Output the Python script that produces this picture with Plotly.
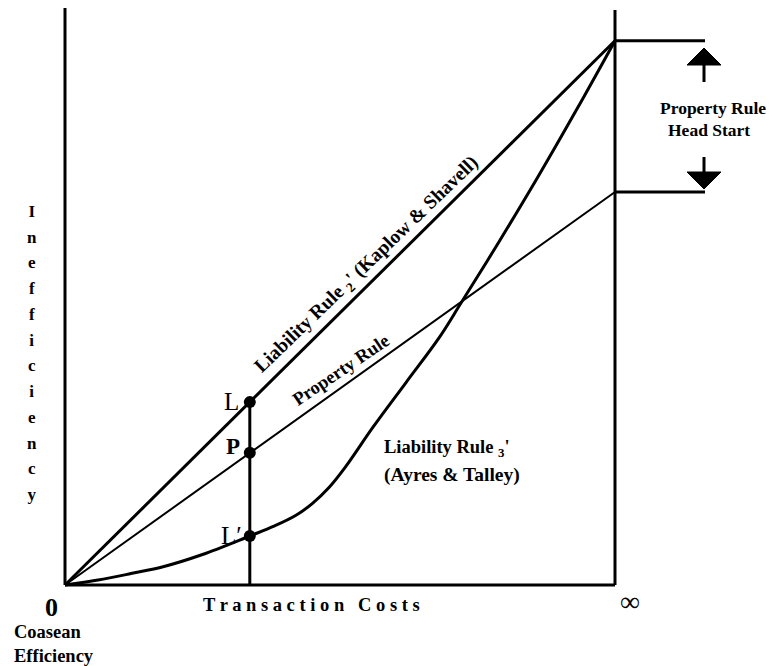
import plotly.graph_objects as go

# ---------------- data ----------------
# x: transaction costs, 0 (Coasean efficiency) .. 100 (infinity)
# y: inefficiency, 0 .. 100
liab2_x = [0, 100]
liab2_y = [0, 100]

prop_x = [0, 100]
prop_y = [0, 72.2]

liab3_x = [0, 6, 12, 18, 25, 33.6, 38, 42, 45, 48, 51, 56, 62, 68, 72, 79, 86, 93, 100]
liab3_y = [0, 0.9, 2.1, 3.4, 5.6, 9.0, 10.8, 12.8, 15.0, 17.9, 21.7, 29.0, 37.2, 45.4, 51.8, 63.2, 75.0, 87.3, 100]

cut_x = 33.6                      # vertical cut L - P - L'
point_names = ["L", "P", "L\u2032"]
point_y = [33.6, 24.3, 9.0]

head_top = 100                    # liability rule end at infinity
head_bottom = 72.2                # property rule end at infinity

# ---------------- pixel <-> data helpers for decorations ----------------
SX = 5.5      # px per x unit
SY = 5.443    # px per y unit
OX, OY = 65, 585
W, H = 775, 666


def dxp(px):
    return (px - OX) / SX


def dyp(py):
    return (OY - py) / SY


FONT = "Liberation Serif"
BLACK = "#000000"

fig = go.Figure()

fig.add_trace(go.Scatter(x=liab2_x, y=liab2_y, mode="lines",
                         line=dict(color=BLACK, width=3), hoverinfo="skip"))
fig.add_trace(go.Scatter(x=prop_x, y=prop_y, mode="lines",
                         line=dict(color=BLACK, width=2), hoverinfo="skip"))
fig.add_trace(go.Scatter(x=liab3_x, y=liab3_y, mode="lines",
                         line=dict(color=BLACK, width=3, shape="spline", smoothing=1.0),
                         hoverinfo="skip"))
# vertical cut
fig.add_trace(go.Scatter(x=[cut_x, cut_x], y=[0, max(point_y)], mode="lines",
                         line=dict(color=BLACK, width=3), hoverinfo="skip"))
# dots
fig.add_trace(go.Scatter(x=[cut_x] * len(point_y), y=point_y, mode="markers",
                         marker=dict(color=BLACK, size=12), hoverinfo="skip"))

shapes = []
# axes frame
shapes.append(dict(type="line", x0=0, y0=dyp(8), x1=0, y1=0,
                   line=dict(color=BLACK, width=3)))
shapes.append(dict(type="line", x0=0, y0=0, x1=100, y1=0,
                   line=dict(color=BLACK, width=3)))
shapes.append(dict(type="line", x0=100, y0=dyp(10), x1=100, y1=0,
                   line=dict(color=BLACK, width=3)))
# head start ticks
shapes.append(dict(type="line", x0=100, y0=head_top, x1=dxp(705), y1=head_top,
                   line=dict(color=BLACK, width=3)))
shapes.append(dict(type="line", x0=100, y0=head_bottom, x1=dxp(705), y1=head_bottom,
                   line=dict(color=BLACK, width=3)))
# arrows
ax_c = dxp(704)
hw = 17 / SX
shapes.append(dict(type="line", x0=ax_c, y0=dyp(64), x1=ax_c, y1=dyp(82),
                   line=dict(color=BLACK, width=3)))
shapes.append(dict(type="path",
                   path=f"M {ax_c - hw} {dyp(65)} L {ax_c + hw} {dyp(65)} L {ax_c} {dyp(48)} Z",
                   fillcolor=BLACK, line=dict(color=BLACK, width=1)))
shapes.append(dict(type="line", x0=ax_c, y0=dyp(157), x1=ax_c, y1=dyp(173),
                   line=dict(color=BLACK, width=3)))
shapes.append(dict(type="path",
                   path=f"M {ax_c - hw} {dyp(172)} L {ax_c + hw} {dyp(172)} L {ax_c} {dyp(189)} Z",
                   fillcolor=BLACK, line=dict(color=BLACK, width=1)))

ann = []


def add_text(text, px, py, size, bold=True, angle=0, xanchor="center", align="center"):
    t = f"<b>{text}</b>" if bold else text
    ann.append(dict(x=dxp(px), y=dyp(py), text=t, showarrow=False, textangle=angle,
                    xanchor=xanchor, yanchor="middle", align=align,
                    font=dict(family=FONT, size=size, color=BLACK)))


# point labels
add_text(point_names[0], 231, 401, 25, bold=False)
add_text(point_names[1], 233, 446, 23, bold=True)
add_text(point_names[2], 231, 535, 25, bold=False)

# curve labels
add_text("Liability Rule <sub>2</sub>' (Kaplow &amp; Shavell)", 367, 265, 19.5, bold=True, angle=-44)
add_text("Property Rule", 341, 370, 18.5, bold=True, angle=-34)
add_text("Liability Rule <sub>3</sub>'", 447, 448, 18.5, bold=True)
add_text("(Ayres &amp; Talley)", 452, 475, 19.5, bold=True)

# right side
add_text("Property Rule", 713, 108, 17.5, bold=True)
add_text("Head Start", 709, 130, 17.5, bold=True)

# axis texts
add_text("0", 51, 607, 26, bold=True)
add_text("\u221e", 630, 601, 28, bold=False)
add_text("Coasean<br>Efficiency", 12, 644, 18.5, bold=True, xanchor="left", align="left")
add_text("T r a n s a c t i o n &nbsp; C o s t s", 311, 605, 18.5, bold=True)

# vertical y-axis title, one letter per line
letters = "Inefficiency"
vt = "<br>".join(f"<span style='font-size:17px'><b>{c}</b></span>" for c in letters)
ann.append(dict(x=dxp(32), y=dyp(353), text=vt, showarrow=False,
                xanchor="center", yanchor="middle", align="center",
                font=dict(family=FONT, size=19.8, color=BLACK)))

fig.update_layout(
    width=W, height=H,
    margin=dict(l=0, r=0, t=0, b=0),
    paper_bgcolor="white", plot_bgcolor="white",
    showlegend=False,
    xaxis=dict(range=[dxp(0), dxp(W)], visible=False, fixedrange=True),
    yaxis=dict(range=[dyp(H), dyp(0)], visible=False, fixedrange=True),
    shapes=shapes,
    annotations=ann,
)

fig.write_html("out.html", config={"displayModeBar": False},
               post_script="document.body.style.margin='0px';")
